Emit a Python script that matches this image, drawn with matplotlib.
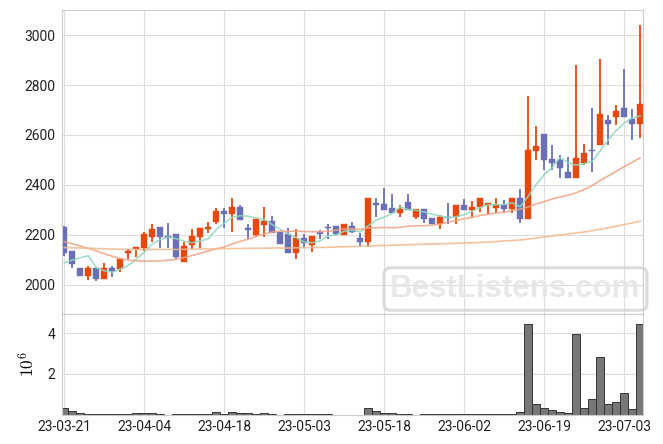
import matplotlib
matplotlib.use('Agg')
import matplotlib.pyplot as plt
import numpy as np

plt.rcParams['font.family'] = ['Roboto', 'DejaVu Sans']

opens = [2233, 2136, 2068, 2037, 2068, 2025, 2068, 2064, 2129, 2143,
         2148, 2191, 2231, 2196, 2204, 2093, 2160, 2193, 2224, 2253,
         2296, 2285, 2312, 2227, 2200, 2240, 2256, 2213, 2204, 2129,
         2187, 2160, 2213, 2233, 2236, 2200, 2236, 2187, 2173, 2327,
         2324, 2307, 2289, 2331, 2273, 2303, 2269, 2243, 2273, 2271,
         2320, 2300, 2311, 2319, 2309, 2320, 2305, 2347, 2265, 2537,
         2604, 2503, 2500, 2452, 2429, 2489, 2541, 2560, 2660, 2673,
         2707, 2664, 2643]
highs = [2237, 2136, 2068, 2076, 2068, 2087, 2077, 2104, 2144, 2152,
         2211, 2244, 2231, 2247, 2204, 2173, 2223, 2227, 2251, 2307,
         2307, 2347, 2320, 2244, 2264, 2313, 2276, 2213, 2229, 2224,
         2204, 2196, 2220, 2244, 2236, 2244, 2253, 2207, 2349, 2349,
         2387, 2363, 2320, 2363, 2303, 2303, 2269, 2280, 2329, 2320,
         2343, 2337, 2347, 2327, 2347, 2340, 2347, 2383, 2756, 2636,
         2604, 2560, 2520, 2513, 2880, 2563, 2707, 2903, 2680, 2720,
         2863, 2703, 3040]
lows = [2116, 2067, 2037, 2020, 2015, 2025, 2033, 2053, 2103, 2111,
        2135, 2173, 2147, 2147, 2103, 2093, 2144, 2147, 2207, 2243,
        2227, 2211, 2260, 2184, 2193, 2191, 2209, 2164, 2129, 2103,
        2153, 2131, 2183, 2183, 2200, 2200, 2207, 2153, 2153, 2271,
        2300, 2289, 2273, 2300, 2264, 2249, 2243, 2223, 2244, 2244,
        2300, 2267, 2290, 2282, 2287, 2289, 2289, 2247, 2265, 2500,
        2460, 2460, 2427, 2429, 2429, 2480, 2451, 2560, 2559, 2640,
        2673, 2580, 2587]
closes = [2129, 2085, 2037, 2068, 2025, 2068, 2057, 2104, 2137, 2152,
          2204, 2224, 2193, 2189, 2113, 2156, 2196, 2227, 2233, 2296,
          2285, 2312, 2260, 2220, 2264, 2256, 2209, 2164, 2129, 2187,
          2169, 2196, 2204, 2227, 2205, 2244, 2213, 2173, 2349, 2320,
          2300, 2289, 2303, 2300, 2303, 2264, 2243, 2271, 2269, 2320,
          2300, 2313, 2347, 2327, 2320, 2304, 2347, 2265, 2540, 2556,
          2500, 2489, 2469, 2429, 2509, 2527, 2537, 2684, 2644, 2696,
          2673, 2643, 2724]
volume_m = [0.33, 0.15, 0.06, 0.02, 0.02, 0.02, 0.02, 0.02, 0.02, 0.06,
            0.06, 0.06, 0.02, 0.0, 0.02, 0.02, 0.02, 0.02, 0.02, 0.12,
            0.02, 0.12, 0.07, 0.07, 0.02, 0.08, 0.02, 0.0, 0.02, 0.02,
            0.02, 0.02, 0.02, 0.02, 0.0, 0.0, 0.0, 0.0, 0.33, 0.15,
            0.08, 0.08, 0.02, 0.02, 0.0, 0.02, 0.02, 0.02, 0.02, 0.02,
            0.02, 0.02, 0.02, 0.02, 0.02, 0.01, 0.03, 0.10, 4.45, 0.50,
            0.30, 0.22, 0.12, 0.07, 3.97, 0.30, 0.75, 2.84, 0.50, 0.60,
            1.08, 0.26, 4.45]
ma5 = [2089, 2100, 2109, 2117, 2069, 2057, 2051, 2064, 2078, 2104,
       2131, 2164, 2182, 2192, 2185, 2175, 2169, 2176, 2185, 2222,
       2247, 2271, 2277, 2275, 2268, 2262, 2242, 2223, 2204, 2189,
       2172, 2169, 2177, 2197, 2200, 2215, 2219, 2212, 2237, 2260,
       2271, 2286, 2312, 2302, 2299, 2292, 2283, 2276, 2270, 2273,
       2281, 2295, 2310, 2321, 2321, 2322, 2329, 2313, 2355, 2402,
       2442, 2470, 2511, 2489, 2479, 2485, 2494, 2537, 2580, 2618,
       2647, 2668, 2676]
ma20 = [2173, 2165, 2156, 2147, 2136, 2125, 2115, 2106, 2100, 2097,
        2096, 2096, 2097, 2099, 2103, 2110, 2118, 2127, 2136, 2145,
        2152, 2164, 2175, 2183, 2195, 2204, 2212, 2215, 2214, 2216,
        2214, 2213, 2213, 2215, 2220, 2224, 2225, 2222, 2228, 2229,
        2230, 2229, 2231, 2235, 2237, 2237, 2239, 2244, 2251, 2258,
        2265, 2271, 2278, 2283, 2288, 2291, 2298, 2303, 2312, 2324,
        2334, 2344, 2352, 2359, 2369, 2382, 2397, 2418, 2436, 2455,
        2474, 2490, 2509]
ma60 = [2150, 2149, 2148, 2147, 2146, 2145, 2144, 2143, 2143, 2142,
        2142, 2142, 2142, 2142, 2142, 2143, 2143, 2144, 2144, 2145,
        2145, 2146, 2146, 2147, 2147, 2147, 2148, 2148, 2148, 2149,
        2149, 2150, 2150, 2151, 2152, 2153, 2154, 2155, 2156, 2157,
        2158, 2159, 2160, 2161, 2162, 2163, 2164, 2165, 2166, 2167,
        2168, 2169, 2170, 2172, 2174, 2176, 2178, 2180, 2184, 2188,
        2192, 2196, 2200, 2204, 2208, 2212, 2217, 2223, 2229, 2235,
        2242, 2248, 2255]
tick_pos = [0, 10, 20, 30, 40, 50, 60, 70]
tick_labels = ['23-03-21', '23-04-04', '23-04-18', '23-05-03',
               '23-05-18', '23-06-02', '23-06-19', '23-07-03']

UP = '#e8480e'
DOWN = '#6a6fb6'
GRID = '#dddddd'
SPINE = '#cccccc'

x = np.arange(len(closes))
o = np.array(opens, float)
c = np.array(closes, float)
h = np.array(highs, float)
l = np.array(lows, float)
cols = [UP if cc >= oo else DOWN for oo, cc in zip(o, c)]

fig = plt.figure(figsize=(6.63, 4.44), dpi=100)
ax = fig.add_axes([0.094, 0.2928, 0.8763, 0.6858])
axv = fig.add_axes([0.094, 0.0664, 0.8763, 0.2264], sharex=ax)

for a in (ax, axv):
    a.set_axisbelow(True)
    a.grid(True, color=GRID, linewidth=0.8)
    for s in a.spines.values():
        s.set_color(SPINE)
        s.set_linewidth(0.8)
    a.tick_params(length=0, labelsize=10, colors='#222222', pad=5)

# candles
ax.vlines(x, l, h, colors=cols, linewidth=1.3, zorder=2)
ax.bar(x, np.maximum(np.abs(c - o), 2), bottom=np.minimum(o, c), width=0.75,
       color=cols, edgecolor=cols, linewidth=0.3, zorder=2)

ax.plot(x, ma5, color='#8ed8bc', linewidth=1.1, alpha=0.9, zorder=3)
ax.plot(x, ma20, color='#f0a383', linewidth=1.2, alpha=0.85, zorder=3)
ax.plot(x, ma60, color='#f2b98e', linewidth=1.2, alpha=0.85, zorder=3)

ax.set_ylim(1884, 3102)
ax.set_yticks([2000, 2200, 2400, 2600, 2800, 3000])
ax.set_xlim(-0.25, 72.4)
ax.set_xticks(tick_pos)
plt.setp(ax.get_xticklabels(), visible=False)

ax.text(0.78, 0.082, 'BestListens.com', transform=ax.transAxes,
        ha='center', va='center', fontsize=22.5, fontweight='bold',
        family='Liberation Sans', color='#e6e6e6', alpha=0.9, zorder=1,
        bbox=dict(boxstyle='round,pad=0.2', facecolor='none',
                  edgecolor='#d8d8d8', linewidth=2.2, alpha=0.9))

# volume
axv.bar(x, volume_m, width=1.0, color='#777777', edgecolor='#333333',
        linewidth=0.7, zorder=2)
axv.set_ylim(0, 4.96)
axv.set_yticks([2, 4])
axv.set_ylabel(r'$10^6$', fontsize=12.5, labelpad=7, math_fontfamily='cm')
axv.set_xticks(tick_pos)
axv.set_xticklabels(tick_labels)
axv.tick_params(axis='x', pad=4)

fig.savefig('out.png', dpi=100)
